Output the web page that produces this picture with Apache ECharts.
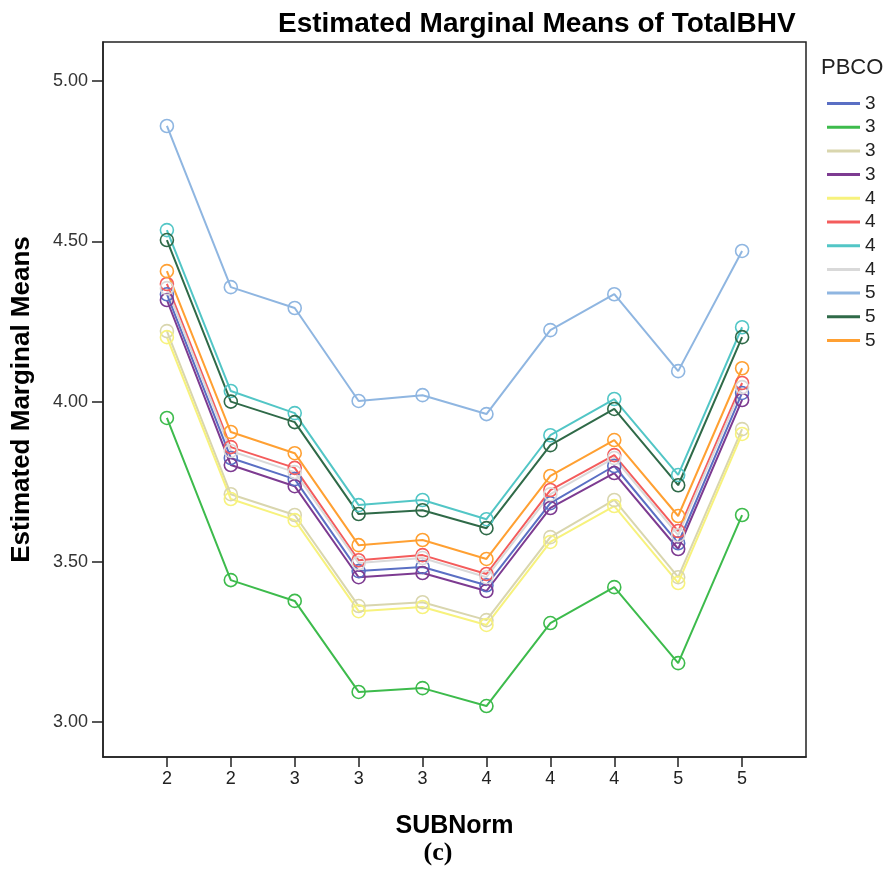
<!DOCTYPE html>
<html>
<head>
<meta charset="utf-8">
<script src="https://cdn.jsdelivr.net/npm/echarts@6/dist/echarts.min.js"></script>
<style>html,body{margin:0;padding:0;background:#fff;}#c{width:886px;height:875px;}</style>
</head>
<body>
<div id="c"></div>
<script>
// SUBNorm category labels
var xLabels = ['2','2','3','3','3','4','4','4','5','5'];
// PBCO legend labels (in legend order)
var pbcoLabels = ['3','3','3','3','4','4','4','4','5','5','5'];
var yTicks = [3.00, 3.50, 4.00, 4.50, 5.00];

// Estimated marginal means, one array per PBCO line
var sBlue      = [4.335, 3.824, 3.758, 3.471, 3.484, 3.427, 3.683, 3.799, 3.558, 4.027];
var sGreen     = [3.949, 3.443, 3.378, 3.094, 3.106, 3.050, 3.309, 3.421, 3.184, 3.646];
var sBeige     = [4.220, 3.711, 3.646, 3.362, 3.374, 3.318, 3.577, 3.693, 3.452, 3.914];
var sPurple    = [4.317, 3.802, 3.736, 3.452, 3.465, 3.409, 3.668, 3.777, 3.540, 4.005];
var sYellow    = [4.201, 3.696, 3.630, 3.346, 3.359, 3.303, 3.562, 3.674, 3.434, 3.899];
var sRed       = [4.367, 3.858, 3.793, 3.505, 3.521, 3.462, 3.724, 3.833, 3.596, 4.058];
var sCyan      = [4.535, 4.033, 3.964, 3.677, 3.693, 3.633, 3.895, 4.008, 3.771, 4.232];
var sGray      = [4.354, 3.846, 3.780, 3.496, 3.512, 3.452, 3.711, 3.824, 3.583, 4.045];
var sLightBlue = [4.860, 4.357, 4.292, 4.002, 4.020, 3.961, 4.223, 4.335, 4.095, 4.470];
var sDarkGreen = [4.504, 4.000, 3.936, 3.649, 3.661, 3.605, 3.864, 3.977, 3.739, 4.201];
var sOrange    = [4.407, 3.905, 3.839, 3.552, 3.568, 3.509, 3.768, 3.880, 3.643, 4.104];

var allSeries = [sBlue, sGreen, sBeige, sPurple, sYellow, sRed, sCyan, sGray, sLightBlue, sDarkGreen, sOrange];
var colors = ['#5a6fc4','#3dbb4c','#d9d6ae','#7d3b91','#f7f27c','#f45c5c','#52c6c6','#d9d9d9','#8fb6e1','#2f6a48','#ffa032'];

var chart = echarts.init(document.getElementById('c'));
var xPos = xLabels.map(function(_, i){ return i + 1; });

var series = allSeries.map(function(vals, k){
  return {
    name: pbcoLabels[k] + '#' + k,
    type: 'line',
    color: colors[k],
    data: vals.map(function(v, i){ return [xPos[i], v]; }),
    symbol: 'circle',
    symbolSize: 13,
    showSymbol: true,
    lineStyle: { width: 2, color: colors[k] },
    itemStyle: { color: 'rgba(255,255,255,0)', borderColor: colors[k], borderWidth: 1.6 },
    emphasis: { disabled: true },
    animation: false
  };
});

var option = {
  backgroundColor: '#fff',
  animation: false,
  title: {
    text: 'Estimated Marginal Means of TotalBHV',
    left: 273, top: 5,
    textStyle: { fontFamily: 'Liberation Sans', fontWeight: 'bold', fontSize: 28, color: '#000' }
  },
  grid: {
    left: 103, right: 80, top: 42, bottom: 118,
    show: true, borderColor: '#222', borderWidth: 1.5, backgroundColor: 'transparent'
  },
  legend: {
    orient: 'vertical',
    left: 827, top: 94, padding: 0,
    itemWidth: 33, itemHeight: 3, itemGap: 4.7,
    data: series.map(function(s, k){ return { name: s.name, icon: 'rect', itemStyle: { color: colors[k], borderWidth: 0 } }; }),
    formatter: function(n){ return n.split('#')[0]; },
    textStyle: { fontFamily: 'Liberation Sans', fontSize: 19, color: '#222', lineHeight: 19 },
    selectedMode: false
  },
  graphic: [
    { type: 'text', x: 821, y: 68, style: { text: 'PBCO', fontFamily: 'Liberation Sans', fontSize: 22, fill: '#222', textVerticalAlign: 'middle' } },
    { type: 'text', x: 438, y: 853, style: { text: '(c)', fontFamily: 'Liberation Serif', fontWeight: 'bold', fontSize: 26, fill: '#000', textAlign: 'center', textVerticalAlign: 'middle' } }
  ],
  xAxis: {
    type: 'value', min: 0, max: 11, interval: 1,
    name: 'SUBNorm', nameLocation: 'middle', nameGap: 57,
    nameTextStyle: { fontFamily: 'Liberation Sans', fontWeight: 'bold', fontSize: 25, color: '#000' },
    axisLine: { show: true, lineStyle: { color: '#222', width: 1.5 } },
    axisTick: { show: true, length: 10, customValues: xPos, lineStyle: { color: '#222', width: 1.5 } },
    axisLabel: {
      customValues: xPos, margin: 13,
      formatter: function(v){ return xLabels[Math.round(v) - 1] || ''; },
      fontFamily: 'Liberation Sans', fontSize: 18, color: '#222'
    },
    splitLine: { show: false }
  },
  yAxis: {
    type: 'value', min: 2.891, max: 5.122,
    name: 'Estimated Marginal Means', nameLocation: 'middle', nameGap: 68, nameRotate: 90,
    nameTextStyle: { fontFamily: 'Liberation Sans', fontWeight: 'bold', fontSize: 26, color: '#000' },
    axisLine: { show: true, lineStyle: { color: '#222', width: 1.5 } },
    axisTick: { show: true, length: 11, customValues: yTicks, lineStyle: { color: '#222', width: 1.5 } },
    axisLabel: {
      customValues: yTicks, margin: 15,
      formatter: function(v){ return v.toFixed(2); },
      fontFamily: 'Liberation Sans', fontSize: 18, color: '#333'
    },
    splitLine: { show: false }
  },
  series: series
};
chart.setOption(option);
</script>
</body>
</html>
